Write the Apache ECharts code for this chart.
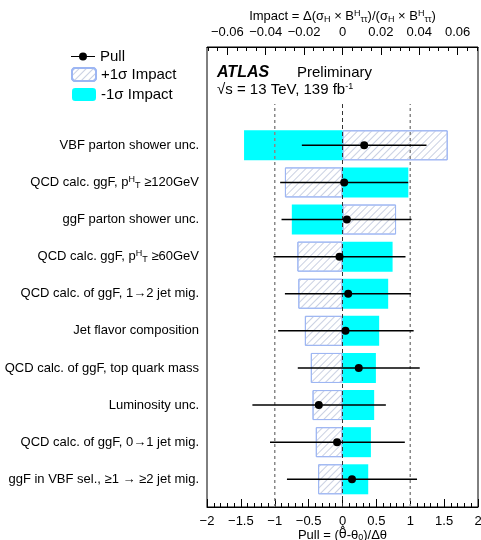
<!DOCTYPE html>
<html>
<head>
<meta charset="utf-8">
<script src="https://cdn.jsdelivr.net/npm/echarts@6/dist/echarts.min.js"></script>
<style>
html, body { margin: 0; padding: 0; background: #fff; }
#chart { width: 481px; height: 540px; }
</style>
</head>
<body>
<div id="chart"></div>
<script>
// nuisance parameters, top to bottom
const categories = [
  'VBF parton shower unc.',
  'QCD calc. ggF, p{sup|H}{sub|T} ≥120GeV',
  'ggF parton shower unc.',
  'QCD calc. ggF, p{sup|H}{sub|T} ≥60GeV',
  'QCD calc. of ggF, 1→2 jet mig.',
  'Jet flavor composition',
  'QCD calc. of ggF, top quark mass',
  'Luminosity unc.',
  'QCD calc. of ggF, 0→1 jet mig.',
  'ggF in VBF sel., ≥1 → ≥2 jet mig.'
]
// impact on the top axis
const impactPlus = [0.0548, -0.0300, 0.0279, -0.0235, -0.0230, -0.0196, -0.0165, -0.0156, -0.0139, -0.0127]
const impactMinus = [-0.0513, 0.0343, -0.0264, 0.0261, 0.0238, 0.0191, 0.0174, 0.0165, 0.0148, 0.0134]
// pulls on the bottom axis
const pullVal = [0.32, 0.025, 0.065, -0.044, 0.084, 0.044, 0.24, -0.35, -0.08, 0.14]
const pullLo = [-0.60, -0.92, -0.90, -1.02, -0.85, -0.95, -0.66, -1.33, -1.07, -0.82]
const pullHi = [1.24, 0.97, 1.02, 0.93, 1.01, 1.05, 1.14, 0.64, 0.92, 1.10]
// axis ticks
const impactTicks = [-0.06, -0.04, -0.02, 0, 0.02, 0.04, 0.06]
const impactMinor = [-0.07, -0.065, -0.055, -0.05, -0.045, -0.035, -0.03, -0.025, -0.015, -0.01, -0.005,
  0.005, 0.01, 0.015, 0.025, 0.03, 0.035, 0.045, 0.05, 0.055, 0.065, 0.07]
const refLines = [-1, 0, 1]

const FONT = '"Liberation Sans", Arial, sans-serif'
const IMP = 0.0706
const refTop = 0.876
const hatchBorder = '#9db6f3'

const rich = {
  sup: { fontSize: 9, verticalAlign: 'top', fontFamily: FONT, color: '#000', padding: [0, 0, 6, 0] },
  sub: { fontSize: 9, verticalAlign: 'bottom', fontFamily: FONT, color: '#000', padding: [5, 0, 0, 0] },
  hat: { fontSize: 13, fontFamily: '"DejaVu Sans"', color: '#000' }
}
const minus = v => String(v).replace('-', '\u2212')

const myChart = echarts.init(document.getElementById('chart'))
myChart.setOption({
  animation: false,
  textStyle: { fontFamily: FONT },
  grid: [
    { left: 207, right: 3, top: 47, bottom: 33, show: true, borderColor: '#000', borderWidth: 1, outerBoundsMode: 'none' },
    { left: 207, right: 3, top: 126.75, bottom: 42.15, outerBoundsMode: 'none' }
  ],
  xAxis: [
    {
      gridIndex: 0,
      type: 'value',
      position: 'bottom',
      min: -2,
      max: 2,
      interval: 0.5,
      splitLine: { show: false },
      axisLine: { onZero: false, lineStyle: { color: '#000' } },
      axisTick: { inside: true, length: 8, lineStyle: { color: '#000' } },
      minorTick: { show: true, splitNumber: 5, length: 4, lineStyle: { color: '#000' } },
      axisLabel: { color: '#000', fontSize: 13, margin: 8, formatter: minus },
      name: 'Pull = ({hat|θ\u0302}-θ{sub|0})/Δθ',
      nameLocation: 'middle',
      nameGap: 21,
      nameMoveOverlap: false,
      nameTextStyle: { color: '#000', fontSize: 13, rich }
    },
    {
      gridIndex: 0,
      type: 'value',
      position: 'top',
      min: -IMP,
      max: IMP,
      splitLine: { show: false },
      axisLine: { onZero: false, lineStyle: { color: '#000' } },
      axisTick: { inside: true, length: 8, customValues: impactTicks, lineStyle: { color: '#000' } },
      axisLabel: {
        color: '#000', fontSize: 13, margin: 8, customValues: impactTicks,
        formatter: v => (v === 0 ? '0' : minus(v.toFixed(2)))
      },
      name: 'Impact = Δ(σ{sub|H} × B{sup|H}{sub|ττ})/(σ{sub|H} × B{sup|H}{sub|ττ})',
      nameLocation: 'middle',
      nameGap: 23,
      nameMoveOverlap: false,
      nameTextStyle: { color: '#000', fontSize: 13, rich }
    },
    {
      gridIndex: 0,
      type: 'value',
      position: 'top',
      min: -IMP,
      max: IMP,
      splitLine: { show: false },
      axisLine: { show: false, onZero: false },
      axisTick: { inside: true, length: 4, customValues: impactMinor, lineStyle: { color: '#000' } },
      axisLabel: { show: false }
    },
    { gridIndex: 1, type: 'value', min: -2, max: 2, show: false },
    { gridIndex: 1, type: 'value', min: -IMP, max: IMP, show: false }
  ],
  yAxis: [
    { gridIndex: 0, type: 'value', min: 0, max: 1, show: false },
    {
      gridIndex: 1,
      type: 'category',
      inverse: true,
      data: categories,
      axisLine: { show: false },
      axisTick: { show: false },
      axisLabel: { color: '#000', fontSize: 13, margin: 8, rich }
    }
  ],
  legend: [
    {
      left: 71,
      top: 49,
      padding: 0,
      itemWidth: 24,
      itemHeight: 8,
      textStyle: { color: '#000', fontSize: 15 },
      data: [{ name: 'Pull', icon: 'path://M0,3.4h24v1.2h-24z M12,0a4,4 0 1,1 -0.01,0z' }]
    },
    {
      left: 71,
      top: 67,
      padding: 0,
      orient: 'vertical',
      itemWidth: 24,
      itemHeight: 13,
      itemGap: 5,
      textStyle: { color: '#000', fontSize: 15 },
      data: ['+1σ Impact', '-1σ Impact']
    }
  ],
  graphic: [
    { type: 'text', left: 217, top: 65, style: { text: 'ATLAS', font: 'italic bold 16px ' + FONT, fill: '#000' } },
    { type: 'text', left: 297, top: 65.5, style: { text: 'Preliminary', font: '15px ' + FONT, fill: '#000' } },
    {
      type: 'text', left: 217, top: 82,
      style: {
        text: '√s = 13 TeV, 139 fb{sup|-1}', font: '15px ' + FONT, fill: '#000',
        rich: { sup: { fontSize: 9, verticalAlign: 'top', fontFamily: FONT, fill: '#000' } }
      }
    }
  ],
  series: [
    {
      name: '+1σ Impact',
      type: 'bar',
      xAxisIndex: 4,
      yAxisIndex: 1,
      barWidth: 30,
      barGap: '-100%',
      data: impactPlus,
      itemStyle: {
        color: '#fff',
        borderColor: hatchBorder,
        borderWidth: 1,
        decal: {
          symbol: 'rect',
          symbolSize: 1,
          color: '#c9d0e2',
          dashArrayX: [1, 0],
          dashArrayY: [1, 4],
          rotation: -Math.PI / 4
        }
      }
    },
    {
      name: '-1σ Impact',
      type: 'bar',
      xAxisIndex: 4,
      yAxisIndex: 1,
      barWidth: 30,
      barGap: '-100%',
      data: impactMinus,
      itemStyle: { color: '#00ffff' }
    },
    ...refLines.map(v => ({
      type: 'line',
      xAxisIndex: 0,
      yAxisIndex: 0,
      symbol: 'none',
      silent: true,
      z: 4,
      data: [[v, 0], [v, refTop]],
      lineStyle: v === 0
        ? { color: '#333', width: 1, type: [4, 3] }
        : { color: '#888', width: 1.5, type: [3, 3] }
    })),
    {
      type: 'custom',
      xAxisIndex: 3,
      yAxisIndex: 1,
      z: 5,
      encode: { x: [0, 1], y: 2 },
      data: pullLo.map((lo, i) => [lo, pullHi[i], i]),
      renderItem: function (params, api) {
        const y = api.value(2)
        const a = api.coord([api.value(0), y])
        const b = api.coord([api.value(1), y])
        return {
          type: 'line',
          shape: { x1: a[0], y1: a[1], x2: b[0], y2: b[1] },
          style: { stroke: '#000', lineWidth: 1.5 }
        }
      }
    },
    {
      name: 'Pull',
      type: 'scatter',
      xAxisIndex: 3,
      yAxisIndex: 1,
      z: 6,
      symbolSize: 8,
      itemStyle: { color: '#000', opacity: 1 },
      data: pullVal.map((p, i) => [p, i])
    }
  ]
})
</script>
</body>
</html>
